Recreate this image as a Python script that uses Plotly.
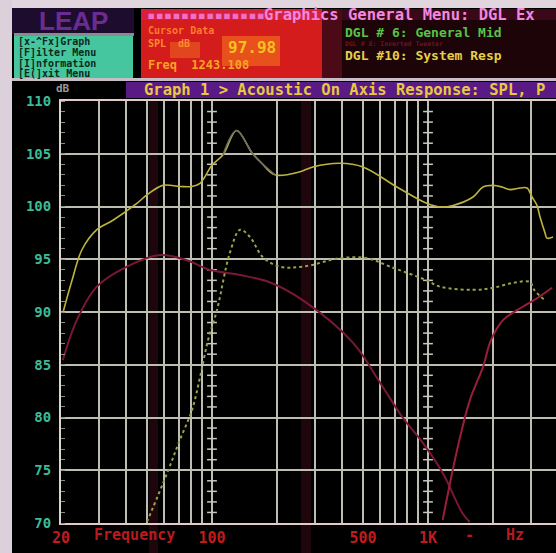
import math
import plotly.graph_objects as go

# ---------------- data ----------------
sys_freq = [20.4, 22.5, 25.0, 29.3, 34.8, 44.9, 50, 59.2, 71, 80.5, 88, 100, 112.5,
            130, 153, 170, 196, 256, 293, 392, 500, 718, 986, 1137, 1306, 1616,
            1798, 2000, 2202, 2398, 2668, 2874, 3032, 3197, 3302, 3482, 3556, 3792]
sys_spl = [89.9, 93.0, 95.9, 97.8, 98.7, 100.3, 101.1, 102.0, 101.9, 101.9, 102.2, 103.9, 104.9,
           107.2, 105.1, 104.1, 103.0, 103.3, 103.75, 104.1, 103.75, 101.85, 100.3, 99.95, 100.1, 100.9,
           101.85, 102.0, 101.85, 101.6, 101.75, 101.75, 100.9, 100.1, 99.0, 97.5, 97.0, 97.1]

mid_freq = [50, 61.9, 71.1, 80.8, 88, 95.9, 105.5, 121, 135, 150, 172, 206, 264,
            392, 522, 667, 986, 1137, 1616, 2000, 2476, 2966, 3100, 3482]
mid_spl = [70.1, 74.7, 77.9, 80.7, 83.8, 87.35, 90.2, 95.6, 97.8, 97.1, 95.2, 94.3, 94.3,
           95.1, 95.1, 94.3, 93.0, 92.4, 92.1, 92.3, 92.75, 92.85, 92.1, 91.1]

woofer_freq = [20.4, 23.7, 29.3, 40.4, 57.4, 76.5, 97.3, 135, 186, 264, 449, 600,
               763, 947, 1170, 1442, 1560]
woofer_spl = [85.45, 89.25, 92.4, 94.3, 95.4, 94.9, 94.0, 93.5, 92.8, 91.1, 87.1, 83.3,
              80.0, 77.6, 74.75, 70.95, 70.1]

tweeter_freq = [1170, 1363, 1563, 1798, 1959, 2230, 2747, 3197, 3750]
tweeter_spl = [70.3, 76.9, 81.65, 84.8, 87.35, 89.25, 90.5, 91.3, 92.3]

y_ticks = [70, 75, 80, 85, 90, 95, 100, 105, 110]
x_tick_vals = [20, 100, 500, 1000]
x_tick_text = ["20", "100", "500", "1K"]
x_grid_minor = [30, 40, 50, 60, 70, 80, 90, 200, 300, 400, 600, 700, 800, 900, 2000, 3000]
x_dotted = [25, 35, 45, 55, 150, 250, 350, 450, 1500, 2500, 3500]
menu_items = ["[x-^Fx]Graph", "[F]ilter Menu", "[I]nformation", "[E(]xit Menu"]

# ---------------- styling ----------------
MONO = "DejaVu Sans Mono"
GRID = "#bdbdb2"
W, H = 556, 553
L, R, T, B = 61, 0, 101, 30
PW, PH = W - L - R, H - T - B


def px(x):
    return (x - L) / PW


def py(y):
    return (H - B - y) / PH


fig = go.Figure()

# tick dashes on the 100 Hz and 1 kHz lines
tick_y = [v for v in range(71, 110) if v % 5]
for fx in (100, 1000):
    fig.add_trace(go.Scatter(x=[fx] * len(tick_y), y=tick_y, mode="markers",
                             marker=dict(symbol="line-ew", size=7,
                                         line=dict(color="#c8c8c0", width=1.5)),
                             hoverinfo="skip"))

# curves
fig.add_trace(go.Scatter(x=woofer_freq, y=woofer_spl, mode="lines",
                         line=dict(color="#7a1834", width=2, shape="spline")))
fig.add_trace(go.Scatter(x=tweeter_freq, y=tweeter_spl, mode="lines",
                         line=dict(color="#9a1e3a", width=2, shape="spline")))
fig.add_trace(go.Scatter(x=mid_freq, y=mid_spl, mode="lines",
                         line=dict(color="#9aa24a", width=2, dash="dot", shape="spline")))
fig.add_trace(go.Scatter(x=sys_freq, y=sys_spl, mode="lines",
                         line=dict(color="#bdb43e", width=1.6, shape="spline")))
# dim grey peak section of the system curve
fig.add_trace(go.Scatter(x=sys_freq[12:17], y=sys_spl[12:17], mode="lines",
                         line=dict(color="#6e6e66", width=1.6, shape="spline")))

shapes = []
# dotted minor verticals (1 dB dots)
for f in x_dotted:
    lf = math.log10(f)
    shapes.append(dict(type="line", xref="x", yref="y", x0=lf, x1=lf, y0=70, y1=110,
                       line=dict(color="#6c6c62", width=1.5, dash="2px,8.55px"), layer="below"))
# faint red moire bands from the photo
for x0, x1 in ((149, 158), (301, 311)):
    shapes.append(dict(type="rect", xref="paper", yref="paper", x0=px(x0), x1=px(x1),
                       y0=py(553), y1=py(99), fillcolor="#1e060c", line=dict(width=0),
                       layer="below"))


def rect(x0, y0, x1, y1, color):
    shapes.append(dict(type="rect", xref="paper", yref="paper", x0=px(x0), x1=px(x1),
                       y0=py(y1), y1=py(y0), fillcolor=color, line=dict(width=0),
                       layer="above"))


# header panels
rect(0, 0, 556, 8, "#e2d6de")
rect(0, 0, 12, 553, "#dcd0da")
rect(12, 8, 134, 34, "#1e0c2e")
rect(14, 33, 134, 36, "#8c8a8c")
rect(14, 36, 133, 78, "#46c69e")
rect(141, 9, 322, 78, "#d41c1c")
rect(141, 9, 322, 20, "#d8203c")
rect(322, 9, 342, 78, "#4c0a16")
rect(342, 9, 556, 20, "#3a0818")
rect(342, 20, 556, 78, "#1c0408")
rect(170, 42, 200, 58, "#e2461e")
rect(222, 36, 280, 66, "#e8501c")
rect(12, 78, 556, 81, "#c6bec4")
rect(126, 82, 556, 98, "#5a1a86")

ann = []


def text(x, y, s, color, size, anchor="left", family=MONO, bold=True):
    ann.append(dict(x=px(x), y=py(y), xref="paper", yref="paper", text=s, showarrow=False,
                    xanchor=anchor, yanchor="middle",
                    font=dict(family=family, size=size, color=color,
                              weight="bold" if bold else "normal")))


text(73, 20.5, "LEAP", "#6a2c92", 26, anchor="center", family="Liberation Sans")
for i, item in enumerate(menu_items):
    text(16, 42 + 10.5 * i, item, "#0c2a1c", 10)
text(145, 15, "▪▪▪▪▪▪▪▪▪▪▪▪▪▪", "#f070c8", 14)
text(262, 15, "Graphics General Menu: DGL Ex", "#f088e0", 15.5)
text(146, 30, "Cursor Data", "#ff7a2c", 10)
text(146, 43, "SPL  dB", "#ff8a30", 10)
text(226, 48, "97.98", "#f4c020", 16)
text(146, 65, "Freq  1243.108", "#f4a620", 12)
text(343, 44, "DGL # 8: Inverted Tweeter", "#6a1424", 6.5)
text(343, 32, "DGL # 6: General Mid", "#56c448", 13)
text(343, 55.5, "DGL #10: System Resp", "#e6d046", 13)
text(63, 89, "dB", "#9a9a9a", 11, anchor="center")
text(142, 90, "Graph 1 > Acoustic On Axis Response: SPL, P", "#e8c840", 15.5)

# axis captions placed on the frequency scale
for f, s in ((44, "Frequency"), (1563, "-"), (2528, "Hz")):
    ann.append(dict(x=math.log10(f), y=py(535), xref="x", yref="paper", text=s,
                    showarrow=False, xanchor="center", yanchor="middle",
                    font=dict(family=MONO, size=15, color="#b81a1e", weight="bold")))

fig.update_layout(
    width=W, height=H, margin=dict(l=L, r=R, t=T, b=B),
    paper_bgcolor="#000000", plot_bgcolor="#000000", showlegend=False,
    shapes=shapes, annotations=ann,
    xaxis=dict(type="log", range=[math.log10(20), math.log10(3914)],
               tickvals=x_tick_vals, ticktext=x_tick_text, ticks="",
               showgrid=True, gridcolor=GRID, gridwidth=2,
               minor=dict(tickvals=x_grid_minor, showgrid=True, gridcolor=GRID, gridwidth=2),
               tickfont=dict(family=MONO, size=15, color="#c01c1e", weight="bold"),
               showline=True, linecolor="#e2caca", linewidth=2, mirror=True, zeroline=False),
    yaxis=dict(range=[70, 110], tickvals=y_ticks, ticks="",
               showgrid=True, gridcolor=GRID, gridwidth=2,
               minor=dict(dtick=1, ticks="inside", ticklen=4, tickcolor="#8c8c86",
                          tickwidth=1, showgrid=False),
               tickfont=dict(family=MONO, size=14, color="#3cba98", weight="bold"),
               ticklabelstandoff=5,
               showline=True, linecolor="#d6d6ce", linewidth=2, zeroline=False),
)

fig.write_html("out.html",
               config={"displayModeBar": False},
               post_script="document.body.style.margin='0px';"
                           "document.body.style.padding='0px';"
                           "document.body.style.overflow='hidden';")
